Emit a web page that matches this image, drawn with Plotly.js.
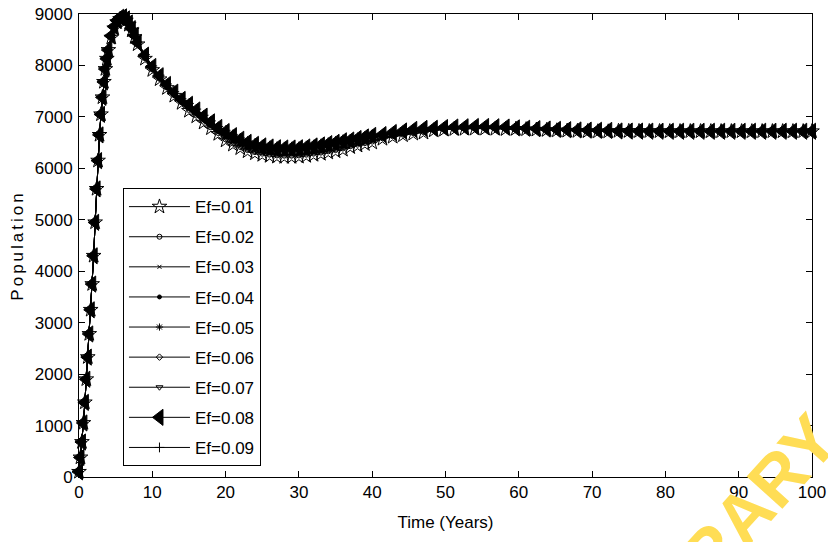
<!DOCTYPE html>
<html>
<head>
<meta charset="utf-8">
<script src="https://cdn.plot.ly/plotly-3.0.1.min.js"></script>
<style>
  html, body { margin: 0; padding: 0; background: #fff; }
  #chart { width: 828px; height: 542px; }
</style>
</head>
<body>
<div id="chart"></div>
<script>
// Simulated population over 100 years for nine values of fishing effort Ef.
const timeYears = [0,0.2,0.4,0.6,0.8,1,1.2,1.4,1.6,1.8,2,2.2,2.4,2.6,2.8,3,3.2,3.4,3.6,3.8,4,
  4.4,4.8,5.2,5.6,6,6.4,6.8,7.2,7.6,8,
  9,10,11,12,13,14,15,16,17,18,19,20,21,22,23,24,25,26,27,28,29,30,31,32,33,34,35,36,37,38,39,40,
  41.4,42.8,44.2,45.6,47,48.4,49.8,51.2,52.6,54,55.4,56.8,58.2,59.6,61,62.4,63.8,65.2,66.6,68,69.4,
  70.8,72.2,73.6,75,76.4,77.8,79.2,80.6,82,83.4,84.8,86.2,87.6,89,90.4,91.8,93.2,94.6,96,97.4,98.8,100];

const popEf01 = [100,380,680,1050,1450,1900,2330,2780,3250,3750,4300,4950,5600,6150,6650,7050,7380,7680,7930,8130,8300,
  8540,8720,8840,8900,8910,8870,8790,8680,8550,8410,
  8130,7910,7730,7560,7410,7270,7118,7008,6888,6778,6668,
  6540,6460,6390,6330,6290,6260,6240,6225,6220,6220,6225,6240,6260,6280,6305,6330,6360,
  6410,6440,6470,6500,6572,6612,6642,6672,6692,
  6736,6751,6761,6766,6771,6771,6766,6761,
  6766,6758,6750,6743,6736,6730,6725,6721,6718,6716,
  6726,6724,6723,6722,6721,6720,6720,6720,6720,6720,6720,6720,6720,6720,6720,6720,6720,6720,6720,6720];
const popEf02 = [100,380,680,1050,1450,1900,2330,2780,3250,3750,4300,4950,5600,6150,6650,7050,7380,7680,7930,8130,8300,
  8545,8725,8845,8905,8915,8875,8795,8685,8555,8415,
  8140,7920,7740,7570,7420,7280,7136,7026,6906,6796,6686,
  6565,6485,6415,6355,6315,6285,6265,6250,6245,6245,6250,6265,6285,6305,6330,6355,6385,
  6430,6460,6490,6520,6584,6624,6654,6684,6704,
  6742,6757,6767,6772,6777,6777,6772,6767,
  6769,6761,6753,6746,6739,6733,6728,6724,6721,6719,
  6726,6724,6723,6722,6721,6720,6720,6720,6720,6720,6720,6720,6720,6720,6720,6720,6720,6720,6720,6720];
const popEf03 = [100,380,680,1050,1450,1900,2330,2780,3250,3750,4300,4950,5600,6150,6650,7050,7380,7680,7930,8130,8300,
  8550,8730,8850,8910,8920,8880,8800,8690,8560,8420,
  8150,7930,7750,7580,7430,7290,7154,7044,6924,6814,6704,
  6590,6510,6440,6380,6340,6310,6290,6275,6270,6270,6275,6290,6310,6330,6355,6380,6410,
  6450,6480,6510,6540,6596,6636,6666,6696,6716,
  6748,6763,6773,6778,6783,6783,6778,6773,
  6772,6764,6756,6749,6742,6736,6731,6727,6724,6722,
  6726,6724,6723,6722,6721,6720,6720,6720,6720,6720,6720,6720,6720,6720,6720,6720,6720,6720,6720,6720];
const popEf04 = [100,380,680,1050,1450,1900,2330,2780,3250,3750,4300,4950,5600,6150,6650,7050,7380,7680,7930,8130,8300,
  8555,8735,8855,8915,8925,8885,8805,8695,8565,8425,
  8160,7940,7760,7590,7440,7300,7172,7062,6942,6832,6722,
  6615,6535,6465,6405,6365,6335,6315,6300,6295,6295,6300,6315,6335,6355,6380,6405,6435,
  6470,6500,6530,6560,6608,6648,6678,6708,6728,
  6754,6769,6779,6784,6789,6789,6784,6779,
  6775,6767,6759,6752,6745,6739,6734,6730,6727,6725,
  6726,6724,6723,6722,6721,6720,6720,6720,6720,6720,6720,6720,6720,6720,6720,6720,6720,6720,6720,6720];
const popEf05 = [100,380,680,1050,1450,1900,2330,2780,3250,3750,4300,4950,5600,6150,6650,7050,7380,7680,7930,8130,8300,
  8560,8740,8860,8920,8930,8890,8810,8700,8570,8430,
  8170,7950,7770,7600,7450,7310,7190,7080,6960,6850,6740,
  6640,6560,6490,6430,6390,6360,6340,6325,6320,6320,6325,6340,6360,6380,6405,6430,6460,
  6490,6520,6550,6580,6620,6660,6690,6720,6740,
  6760,6775,6785,6790,6795,6795,6790,6785,
  6778,6770,6762,6755,6748,6742,6737,6733,6730,6728,
  6726,6724,6723,6722,6721,6720,6720,6720,6720,6720,6720,6720,6720,6720,6720,6720,6720,6720,6720,6720];
const popEf06 = [100,380,680,1050,1450,1900,2330,2780,3250,3750,4300,4950,5600,6150,6650,7050,7380,7680,7930,8130,8300,
  8565,8745,8865,8925,8935,8895,8815,8705,8575,8435,
  8180,7960,7780,7610,7460,7320,7208,7098,6978,6868,6758,
  6665,6585,6515,6455,6415,6385,6365,6350,6345,6345,6350,6365,6385,6405,6430,6455,6485,
  6510,6540,6570,6600,6632,6672,6702,6732,6752,
  6766,6781,6791,6796,6801,6801,6796,6791,
  6781,6773,6765,6758,6751,6745,6740,6736,6733,6731,
  6726,6724,6723,6722,6721,6720,6720,6720,6720,6720,6720,6720,6720,6720,6720,6720,6720,6720,6720,6720];
const popEf07 = [100,380,680,1050,1450,1900,2330,2780,3250,3750,4300,4950,5600,6150,6650,7050,7380,7680,7930,8130,8300,
  8570,8750,8870,8930,8940,8900,8820,8710,8580,8440,
  8190,7970,7790,7620,7470,7330,7226,7116,6996,6886,6776,
  6690,6610,6540,6480,6440,6410,6390,6375,6370,6370,6375,6390,6410,6430,6455,6480,6510,
  6530,6560,6590,6620,6644,6684,6714,6744,6764,
  6772,6787,6797,6802,6807,6807,6802,6797,
  6784,6776,6768,6761,6754,6748,6743,6739,6736,6734,
  6726,6724,6723,6722,6721,6720,6720,6720,6720,6720,6720,6720,6720,6720,6720,6720,6720,6720,6720,6720];
const popEf08 = [100,380,680,1050,1450,1900,2330,2780,3250,3750,4300,4950,5600,6150,6650,7050,7380,7680,7930,8130,8300,
  8575,8755,8875,8935,8945,8905,8825,8715,8585,8445,
  8200,7980,7800,7630,7480,7340,7244,7134,7014,6904,6794,
  6715,6635,6565,6505,6465,6435,6415,6400,6395,6395,6400,6415,6435,6455,6480,6505,6535,
  6550,6580,6610,6640,6656,6696,6726,6756,6776,
  6778,6793,6803,6808,6813,6813,6808,6803,
  6787,6779,6771,6764,6757,6751,6746,6742,6739,6737,
  6726,6724,6723,6722,6721,6720,6720,6720,6720,6720,6720,6720,6720,6720,6720,6720,6720,6720,6720,6720];
const popEf09 = [100,380,680,1050,1450,1900,2330,2780,3250,3750,4300,4950,5600,6150,6650,7050,7380,7680,7930,8130,8300,
  8580,8760,8880,8940,8950,8910,8830,8720,8590,8450,
  8210,7990,7810,7640,7490,7350,7262,7152,7032,6922,6812,
  6740,6660,6590,6530,6490,6460,6440,6425,6420,6420,6425,6440,6460,6480,6505,6530,6560,
  6570,6600,6630,6660,6668,6708,6738,6768,6788,
  6784,6799,6809,6814,6819,6819,6814,6809,
  6790,6782,6774,6767,6760,6754,6749,6745,6742,6740,
  6726,6724,6723,6722,6721,6720,6720,6720,6720,6720,6720,6720,6720,6720,6720,6720,6720,6720,6720,6720];

const seriesNames = ['Ef=0.01','Ef=0.02','Ef=0.03','Ef=0.04','Ef=0.05','Ef=0.06','Ef=0.07','Ef=0.08','Ef=0.09'];
const seriesValues = [popEf01, popEf02, popEf03, popEf04, popEf05, popEf06, popEf07, popEf08, popEf09];

const xTickVals = [0,10,20,30,40,50,60,70,80,90,100];
const yTickVals = [0,1000,2000,3000,4000,5000,6000,7000,8000,9000];

// marker style per curve (symbol, size)
const markerStyles = [
  ['star-open', 11], ['circle-open', 5], ['x-thin-open', 4], ['circle', 4],
  ['asterisk-open', 6], ['diamond-open', 5], ['triangle-down-open', 6],
  ['triangle-left', 14], ['cross-thin-open', 7]
];

const traces = seriesValues.map((vals, i) => ({
  type: 'scatter',
  mode: 'lines+markers',
  x: timeYears,
  y: vals,
  name: seriesNames[i],
  legendgroup: 'g' + i,
  cliponaxis: false,
  line: { color: '#000', width: 1 },
  marker: {
    symbol: markerStyles[i][0],
    size: markerStyles[i][1],
    color: '#000',
    line: { color: '#000', width: 1 }
  }
}));

const baseFont = { family: 'Liberation Sans, Arial, sans-serif', size: 17, color: '#000' };

const layout = {
  width: 828,
  height: 542,
  margin: { l: 79, r: 16, t: 14, b: 65 },
  paper_bgcolor: '#fff',
  plot_bgcolor: '#fff',
  font: baseFont,
  showlegend: true,
  legend: {
    x: 0.060, y: 0.624, xanchor: 'left', yanchor: 'top',
    bgcolor: '#fff', bordercolor: '#000', borderwidth: 1,
    font: baseFont,
    traceorder: 'grouped',
    tracegroupgap: 5,
    itemwidth: 61
  },
  xaxis: {
    range: [0, 100],
    tickvals: xTickVals,
    ticks: 'inside', ticklen: 6, tickwidth: 1, tickcolor: '#000',
    showline: true, linecolor: '#000', linewidth: 1, mirror: 'ticks',
    showgrid: false, zeroline: false,
    tickfont: baseFont,
    title: { text: 'Time (Years)', font: baseFont, standoff: 14 }
  },
  yaxis: {
    range: [0, 9000],
    tickvals: yTickVals,
    ticks: 'inside', ticklen: 6, tickwidth: 1, tickcolor: '#000',
    showline: true, linecolor: '#000', linewidth: 1, mirror: 'ticks',
    showgrid: false, zeroline: false,
    tickfont: baseFont,
    ticklabelstandoff: 2,
    title: { text: 'Population', font: baseFont, standoff: 6 }
  },
  annotations: [{
    xref: 'paper', yref: 'paper',
    x: 0.877, y: -0.136,
    xanchor: 'center', yanchor: 'middle',
    text: 'LIBRARY',
    textangle: -48,
    showarrow: false,
    font: { family: 'Liberation Sans, Arial, sans-serif', size: 70, color: '#FFDD55', weight: 'bold' }
  }]
};

Plotly.newPlot('chart', traces, layout, { staticPlot: true }).then(() => {
  const yt = document.querySelector('.ytitle');
  if (yt) yt.style.letterSpacing = '3px';
});
</script>
</body>
</html>
